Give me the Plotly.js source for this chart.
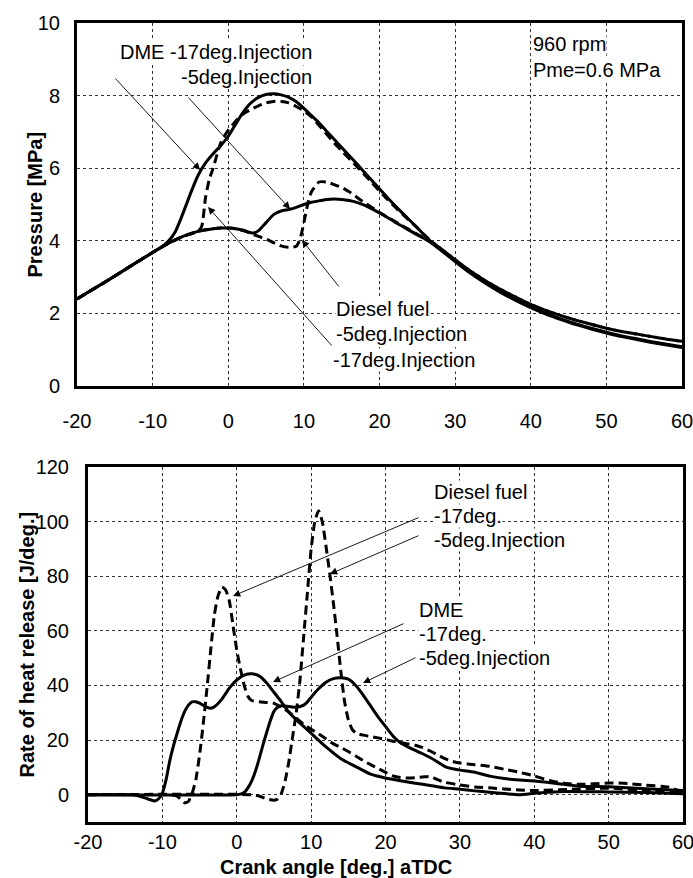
<!DOCTYPE html>
<html>
<head>
<meta charset="utf-8">
<script src="https://cdn.plot.ly/plotly-3.0.1.min.js"></script>
<style>html,body{margin:0;padding:0;background:#fff;}#chart{width:693px;height:878px;}</style>
</head>
<body>
<div id="chart"></div>
<script>
// ---------- Pressure (top panel) ----------
const pDmeEarlyX = [-20,-18,-16,-14,-12,-10,-9,-8,-7,-6,-5,-4,-3,-2,-1,0,1,2,3,4,5,6,7,8,9,10,11,12,13,14,15,17,19,21,23,25,26,27,28,30,32,34,36,38,40,42,44,46,48,50,52,54,56,58,60];
const pDmeEarlyY = [2.40,2.65,2.90,3.16,3.42,3.68,3.80,3.97,4.25,4.75,5.30,5.80,6.15,6.40,6.62,6.88,7.22,7.55,7.80,7.95,8.03,8.05,8.02,7.95,7.83,7.65,7.45,7.25,7.02,6.80,6.57,6.12,5.66,5.20,4.77,4.36,4.14,3.94,3.78,3.45,3.13,2.85,2.60,2.38,2.18,2.00,1.85,1.71,1.59,1.48,1.38,1.30,1.22,1.15,1.08];

const pDieselEarlyX = [-20,-18,-16,-14,-12,-10,-8,-6,-4,-3.5,-3,-2.5,-2,-1,0,1,2,3,4,5,6,7,8,9,10,11,12,13,14,15,17,19,21,23,25,26,27,28,30,32,34,36,38,40,42,44,46,48,50,52,54,56,58,60];
const pDieselEarlyY = [2.40,2.65,2.90,3.16,3.42,3.68,3.92,4.12,4.26,4.40,5.20,5.70,6.00,6.70,7.05,7.30,7.50,7.62,7.72,7.80,7.84,7.84,7.80,7.70,7.58,7.42,7.18,6.94,6.70,6.48,6.05,5.60,5.15,4.74,4.36,4.15,3.96,3.80,3.48,3.17,2.90,2.66,2.45,2.25,2.08,1.94,1.81,1.70,1.59,1.50,1.43,1.36,1.29,1.23];

const pDmeLateX = [-20,-18,-16,-14,-12,-10,-8,-6,-4,-2,-1,0,1,2,3,3.5,4,5,6,7,8,9,10,11,12,13,14,15,16,17,18,19,20,21,22,23,24,25,26,27,28,30,32,34,36,38,40,42,44,46,48,50,52,54,56,58,60];
const pDmeLateY = [2.40,2.65,2.90,3.16,3.42,3.68,3.92,4.12,4.26,4.33,4.35,4.35,4.33,4.29,4.22,4.22,4.28,4.50,4.72,4.82,4.86,4.92,5.00,5.06,5.10,5.14,5.15,5.14,5.11,5.06,4.98,4.88,4.77,4.65,4.52,4.40,4.28,4.16,4.05,3.92,3.76,3.43,3.11,2.83,2.58,2.36,2.16,1.98,1.83,1.69,1.57,1.46,1.36,1.28,1.20,1.13,1.06];

const pDieselLateX = [-20,-18,-16,-14,-12,-10,-8,-6,-4,-2,-1,0,1,2,3,4,5,6,7,8,9,9.5,10,10.5,11,12,13,14,15,16,17,18,19,20,21,22,23,24,25,26,27,28,30,32,34,36,38,40,42,44,46,48,50,52,54,56,58,60];
const pDieselLateY = [2.40,2.65,2.90,3.16,3.42,3.68,3.92,4.12,4.26,4.33,4.35,4.35,4.33,4.28,4.20,4.12,4.05,3.95,3.86,3.82,3.85,4.05,4.50,5.00,5.35,5.62,5.62,5.55,5.47,5.35,5.20,5.05,4.92,4.78,4.66,4.54,4.42,4.30,4.18,4.07,3.95,3.80,3.48,3.17,2.90,2.66,2.45,2.25,2.08,1.94,1.81,1.70,1.59,1.50,1.43,1.36,1.29,1.23];

// ---------- Rate of heat release (bottom panel) ----------
const hDmeEarlyX = [-20,-15,-14,-13,-12,-11,-10.5,-10,-9.5,-9,-8.5,-8,-7.5,-7,-6.5,-6,-5.5,-5,-4,-3.5,-3,-2,-1,0,1,2,3,4,5,6,7,8,9,10,12,14,16,18,20,22,24,26,28,30,32,34,36,38,40,42,44,50,55,60];
const hDmeEarlyY = [0,0,0,-0.6,-1.5,-2.3,-1.5,0.6,5.5,12.5,18,22.6,27,30.5,32.8,34,34,33.5,32,31.7,32.2,35,39,42,43.8,44.3,43.5,41,37.5,34,30.2,27.5,25,22.5,17.5,13.2,10.3,7.5,6.1,5.1,4.2,3.4,2.5,2.0,1.4,0.9,0.4,0,0.5,0.9,1.2,1.0,0.8,0.3];

const hDmeLateX = [-20,0,0.5,1,1.5,2,2.5,3,3.5,4,4.5,5,5.5,6,7,8,9,9.5,10,11,12,13,14,15,16,17,18,19,20,21,22,23,24,25,26,27,28,29,30,32,34,36,38,40,42,44,46,50,55,60];
const hDmeLateY = [0,0,0.2,0.8,2.5,5,8.5,13,18,22.6,27,30.5,32,32.6,32.3,32,32.8,34,35.7,38.8,41.2,42.5,42.8,42.3,40,36.5,32.5,28.5,25,21.5,19,17.5,16.2,15,13.6,12,10.3,9.5,9.0,8.2,6.8,5.9,5.4,5.0,4.5,3.8,3.1,2.9,2.2,1.5];

const hDieselEarlyX = [-20,-9,-8,-7.5,-7,-6.5,-6,-5.5,-5,-4.5,-4,-3.5,-3,-2.5,-2,-1.5,-1,-0.5,0,0.5,1,1.5,2,3,4,5,6,7,8,9,10,11,12,13,14,15,16,17,18,19,20,21,22,23,24,25,26,27,28,30,32,34,36,38,40,45,50,55,60];
const hDieselEarlyY = [0,0,-0.5,-1.8,-3,-2.5,0.5,5.5,14.5,26,39,53,66,73,76,75,71,62,53,46,40,36,34.5,34,33.8,33.5,32,30.3,28,25.8,24,22.3,20.5,18.6,17.3,15.8,14.2,12.5,11,9.6,8.2,6.9,6.3,6.1,6.2,6.5,6.7,5.5,4.5,3.6,2.8,2.5,2.1,1.7,1.5,2.0,2.4,1.5,0.5];

const hDieselLateX = [-20,2,3,4,5,5.5,6,6.5,7,7.5,8,8.5,9,9.5,10,10.5,11,11.5,12,12.5,13,13.5,14,14.5,15,15.5,16,17,18,19,20,21,22,23,24,25,26,27,28,29,30,32,34,36,38,40,42,44,46,48,50,52,55,58,60];
const hDieselLateY = [0,0,-0.5,-1.5,-2,-1.6,0.5,5,12,21,30,42,58,74,90,100,104,100,91,81,70,58,45,34,27.5,24,22.6,21.8,21.3,20.8,20.2,19.6,19.1,18.6,18.1,17.2,16,14.6,13.2,12.2,11.6,11,10.4,9.3,8.2,6.9,5.2,4.2,3.8,4.0,4.3,4.2,3.5,2.8,0.8];

// ---------- axis ticks ----------
const xTicks = [-20,-10,0,10,20,30,40,50,60];
const xTickText = ['-20','-10','0','10','20','30','40','50','60'];
const pTicks = [0,2,4,6,8,10];
const hTicks = [0,20,40,60,80,100,120];

const W = 693, H = 878;
const FONT = 'Liberation Sans, Arial, sans-serif';
const px = (x) => x / W;
const py = (y) => 1 - y / H;

function tr(x, y, dashed, xa, ya) {
  return {
    x: x, y: y, xaxis: xa, yaxis: ya, type: 'scatter', mode: 'lines',
    line: {color: '#000', width: 3, dash: dashed ? '9px,5px' : 'solid', shape: 'spline', smoothing: 0.5},
    showlegend: false, hoverinfo: 'skip'
  };
}

const data = [
  tr(pDmeEarlyX, pDmeEarlyY, false, 'x', 'y'),
  tr(pDieselEarlyX, pDieselEarlyY, true, 'x', 'y'),
  tr(pDmeLateX, pDmeLateY, false, 'x', 'y'),
  tr(pDieselLateX, pDieselLateY, true, 'x', 'y'),
  tr(hDmeEarlyX, hDmeEarlyY, false, 'x2', 'y2'),
  tr(hDieselEarlyX, hDieselEarlyY, true, 'x2', 'y2'),
  tr(hDmeLateX, hDmeLateY, false, 'x2', 'y2'),
  tr(hDieselLateX, hDieselLateY, true, 'x2', 'y2')
];

const axCommon = {
  showline: true, mirror: true, linecolor: '#000', linewidth: 3,
  showgrid: true, gridcolor: '#333', gridwidth: 1, griddash: '3px,3px',
  zeroline: false, ticks: '', tickfont: {family: FONT, size: 20, color: '#000'},
  ticklabeloverflow: 'allow', fixedrange: true
};

function txt(text, x, y, xanchor, size, bold) {
  return {
    xref: 'paper', yref: 'paper', x: px(x), y: py(y), xanchor: xanchor, yanchor: 'middle',
    text: bold ? '<b>' + text + '</b>' : text, showarrow: false,
    font: {family: FONT, size: size || 20, color: '#000'}, bgcolor: 'rgba(255,255,255,1)', borderpad: 0
  };
}
function arrow(hx, hy, tx, ty) {
  return {
    xref: 'paper', yref: 'paper', x: px(hx), y: py(hy), ax: tx - hx, ay: ty - hy,
    text: '', showarrow: true, arrowhead: 2, arrowsize: 1.6, arrowwidth: 0.9, arrowcolor: '#000', standoff: 0
  };
}

const annotations = [
  // top panel
  txt('DME -17deg.Injection', 313, 52, 'right'),
  txt('-5deg.Injection', 313, 77, 'right'),
  txt('960 rpm', 532, 44, 'left'),
  txt('Pme=0.6 MPa', 532, 70, 'left'),
  txt('Diesel fuel', 335, 309, 'left'),
  txt('-5deg.Injection', 335, 334, 'left'),
  txt('-17deg.Injection', 332, 360, 'left'),
  arrow(200, 170, 114, 77),
  arrow(290, 209, 187, 96),
  arrow(302, 240, 340, 288),
  arrow(208, 207, 333, 347),
  // bottom panel
  txt('Diesel fuel', 433, 492, 'left'),
  txt('-17deg.', 433, 516, 'left'),
  txt('-5deg.Injection', 433, 540, 'left'),
  txt('DME', 418, 610, 'left'),
  txt('-17deg.', 418, 634, 'left'),
  txt('-5deg.Injection', 418, 658, 'left'),
  arrow(233, 596, 420, 517),
  arrow(330, 574, 420, 535),
  arrow(273, 682, 405, 623),
  arrow(363, 683, 417, 657),
  // axis titles
  Object.assign(txt('Pressure [MPa]', 35, 204.5, 'center', 20, true), {textangle: -90, bgcolor: 'rgba(0,0,0,0)'}),
  Object.assign(txt('Rate of heat release [J/deg.]', 26, 644.5, 'center', 20, true), {textangle: -90, bgcolor: 'rgba(0,0,0,0)'}),
  Object.assign(txt('Crank angle [deg.] aTDC', 336, 867, 'center', 20, true), {bgcolor: 'rgba(0,0,0,0)'})
];

const layout = {
  width: W, height: H,
  margin: {l: 0, r: 0, t: 0, b: 0},
  paper_bgcolor: '#fff', plot_bgcolor: '#fff',
  showlegend: false,
  font: {family: FONT, size: 20, color: '#000'},
  xaxis: Object.assign({}, axCommon, {domain: [px(77), px(682)], range: [-20, 60], tickvals: xTicks, ticktext: xTickText, anchor: 'y', ticklabelstandoff: 15}),
  yaxis: Object.assign({}, axCommon, {domain: [py(386), py(23)], range: [0, 10], tickvals: pTicks, anchor: 'x', ticklabelstandoff: 10}),
  xaxis2: Object.assign({}, axCommon, {domain: [px(88), px(683)], range: [-20, 60], tickvals: xTicks, ticktext: xTickText, anchor: 'y2', ticklabelstandoff: 0}),
  yaxis2: Object.assign({}, axCommon, {domain: [py(822), py(467)], range: [-10, 120], tickvals: hTicks, anchor: 'x2', ticklabelstandoff: 12}),
  annotations: annotations
};

Plotly.newPlot('chart', data, layout, {staticPlot: true, displayModeBar: false});
</script>
</body>
</html>
